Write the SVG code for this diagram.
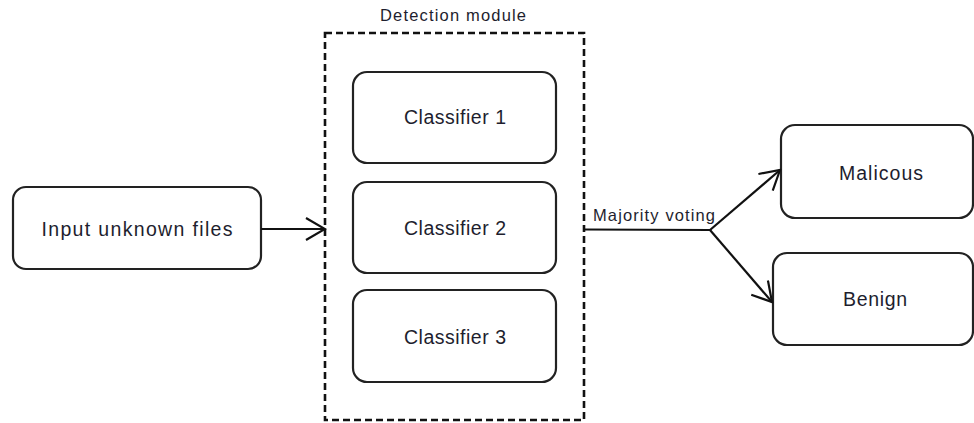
<svg xmlns="http://www.w3.org/2000/svg" width="974" height="423" viewBox="0 0 974 423">
<defs>
<style>
.box{fill:#fff;stroke:#222;stroke-width:2.2}
.lbl{font-family:"Liberation Sans",Arial,sans-serif;font-size:19.5px;fill:#1e1e2e;text-anchor:middle}
.sm{font-family:"Liberation Sans",Arial,sans-serif;font-size:16.5px;fill:#1e1e2e;text-anchor:middle}
.ln{fill:none;stroke:#111;stroke-width:2.2}
</style>
<marker id="arr" viewBox="0 0 22 24" refX="20" refY="12" markerWidth="22" markerHeight="24" markerUnits="userSpaceOnUse" orient="auto">
<path d="M1,1 L20,12 L1,23" fill="none" stroke="#111" stroke-width="2.2"/>
</marker>
</defs>
<rect width="974" height="423" fill="#fff"/>
<g id="detection-module">
<rect x="325" y="33" width="259" height="387" fill="none" stroke="#111" stroke-width="2.6" stroke-dasharray="7,4"/>
<text class="sm" x="453" y="21" textLength="146">Detection module</text>
</g>
<g id="input">
<rect class="box" x="13" y="187" width="248" height="82" rx="13"/>
<text class="lbl" x="137" y="236" textLength="191">Input unknown files</text>
</g>
<g id="classifier1">
<rect class="box" x="353" y="72" width="203" height="91" rx="14"/>
<text class="lbl" x="455" y="124" textLength="102">Classifier 1</text>
</g>
<g id="classifier2">
<rect class="box" x="353" y="182" width="203" height="91" rx="14"/>
<text class="lbl" x="455" y="235" textLength="102">Classifier 2</text>
</g>
<g id="classifier3">
<rect class="box" x="353" y="290" width="203" height="92" rx="14"/>
<text class="lbl" x="455" y="344" textLength="102">Classifier 3</text>
</g>
<g id="malicous">
<rect class="box" x="781" y="125" width="192" height="93" rx="14"/>
<text class="lbl" x="881" y="180" textLength="84">Malicous</text>
</g>
<g id="benign">
<rect class="box" x="773" y="253" width="200" height="92" rx="14"/>
<text class="lbl" x="875" y="306" textLength="64">Benign</text>
</g>
<g id="connectors">
<line class="ln" x1="261" y1="229" x2="325" y2="229" marker-end="url(#arr)"/>
<polyline class="ln" points="585,229.5 710,230"/>
<line class="ln" x1="710" y1="230" x2="780" y2="170" marker-end="url(#arr)"/>
<line class="ln" x1="710" y1="230" x2="772" y2="302" marker-end="url(#arr)"/>
<text class="sm" x="654" y="221" textLength="122">Majority voting</text>
</g>
</svg>
